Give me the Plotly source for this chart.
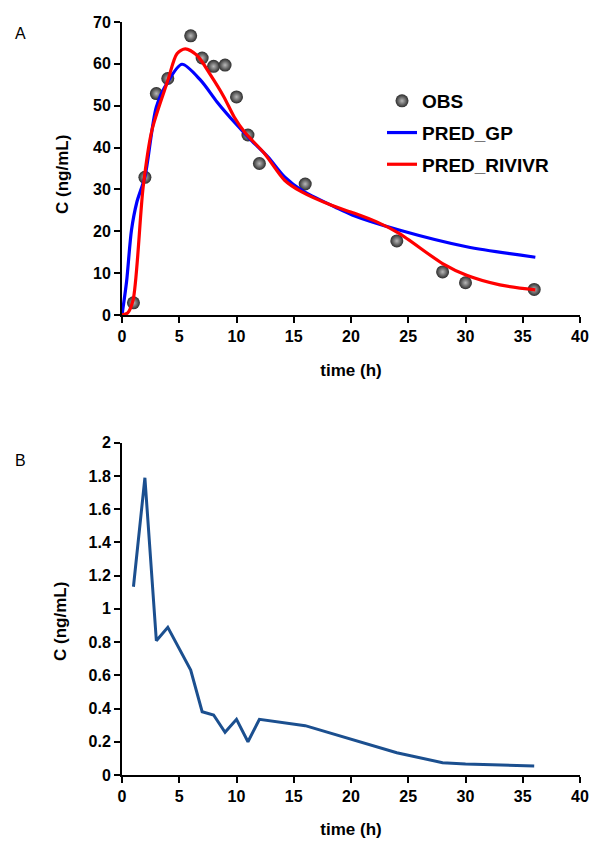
import plotly.graph_objects as go

# Panel A: observed concentrations
obs_t = [1, 2, 3, 4, 6, 7, 8, 9, 10, 11, 12, 16, 24, 28, 30, 36]
obs_c = [2.9, 32.9, 52.9, 56.5, 66.7, 61.4, 59.4, 59.7, 52.1, 43.0, 36.2, 31.3, 17.7, 10.3, 7.7, 6.1]

# Panel A: PRED_GP curve
gp_t = [0, 0.4, 0.83, 1.3, 2, 3, 4, 5.24, 6.86, 8.3, 9.8, 11.27, 12.74, 14.2, 15.7, 18.6, 20.1, 24.2, 30.1, 36.1]
gp_c = [0, 8.0, 20.3, 27.0, 33.0, 49.7, 55.7, 59.9, 56.1, 50.9, 46.1, 41.8, 37.8, 33.0, 29.8, 25.8, 23.9, 20.3, 16.3, 13.8]

# Panel A: PRED_RIVIVR curve
rv_t = [0, 0.5, 0.97, 1.85, 2.6, 4, 4.8, 5.53, 6.56, 7.74, 8.9, 9.8, 10.7, 12.44, 14.2, 15.7, 18.3, 20.1, 22.2, 24.2, 28, 30.1, 33, 36.1]
rv_c = [0, 0.5, 3.6, 30.6, 44.0, 56.0, 62.4, 63.6, 62.0, 57.3, 52.1, 47.3, 43.7, 38.6, 32.2, 29.4, 26.2, 24.5, 22.3, 19.5, 12.3, 9.5, 7.2, 6.0]

# Panel B
b_t = [1, 2, 3, 4, 6, 7, 8, 9, 10, 11, 12, 16, 24, 28, 30, 36]
b_c = [1.133, 1.789, 0.808, 0.889, 0.632, 0.381, 0.361, 0.257, 0.335, 0.2, 0.335, 0.297, 0.134, 0.074, 0.066, 0.054]

FONT = "Liberation Sans, Arial, sans-serif"
W, H = 594, 842

fig = go.Figure()
fig.add_trace(go.Scatter(
    x=obs_t, y=obs_c, mode="markers", name="OBS",
    marker=dict(size=13, color="#2c2c2c", line=dict(width=0),
                gradient=dict(type="radial", color="#b8b8b8")),
    xaxis="x", yaxis="y", legendgroup="a"))
fig.add_trace(go.Scatter(
    x=gp_t, y=gp_c, mode="lines", name="PRED_GP",
    line=dict(color="#0000ff", width=3.2, shape="spline", smoothing=0.8),
    xaxis="x", yaxis="y", legendgroup="b"))
fig.add_trace(go.Scatter(
    x=rv_t, y=rv_c, mode="lines", name="PRED_RIVIVR",
    line=dict(color="#ff0000", width=3.2, shape="spline", smoothing=0.8),
    xaxis="x", yaxis="y", legendgroup="c"))
fig.add_trace(go.Scatter(
    x=b_t, y=b_c, mode="lines", name="B", showlegend=False,
    line=dict(color="#1b4f8f", width=3),
    xaxis="x2", yaxis="y2"))

xd = [122 / W, 580 / W]
yA = [1 - 315 / H, 1 - 22 / H]
yB = [1 - 775 / H, 1 - 442.7 / H]

axis_common = dict(
    showgrid=False, zeroline=False, showline=True, linecolor="black", linewidth=2,
    ticks="outside", ticklen=6, tickwidth=2, tickcolor="black", automargin=False,
    tickfont=dict(family=FONT, size=16, color="black", weight="bold"),
)

fig.update_layout(
    width=W, height=H, autosize=False, margin=dict(l=0, r=0, t=0, b=0, pad=0),
    paper_bgcolor="white", plot_bgcolor="white",
    font=dict(family=FONT, color="black"),
    xaxis=dict(domain=xd, anchor="y", range=[0, 40], dtick=5,
               title=dict(text="time (h)", font=dict(family=FONT, size=17, weight="bold"), standoff=20),
               **axis_common),
    yaxis=dict(domain=yA, anchor="x", range=[0, 70], dtick=10, **axis_common),
    xaxis2=dict(domain=xd, anchor="y2", range=[0, 40], dtick=5,
                title=dict(text="time (h)", font=dict(family=FONT, size=17, weight="bold"), standoff=19),
                **axis_common),
    yaxis2=dict(domain=yB, anchor="x2", range=[0, 2], dtick=0.2, **axis_common),
    legend=dict(x=382 / W, y=1 - 82 / H, xanchor="left", yanchor="top",
                bgcolor="rgba(0,0,0,0)", traceorder="grouped", tracegroupgap=4,
                font=dict(family=FONT, size=19, color="black", weight="bold")),
    showlegend=True,
)

ann = [
    dict(text="A", x=20 / W, y=1 - 33 / H, font=dict(size=16)),
    dict(text="B", x=20 / W, y=1 - 460 / H, font=dict(size=16)),
    dict(text="<b>C (ng/mL)</b>", x=62 / W, y=1 - 175 / H, textangle=-90, font=dict(size=17)),
    dict(text="<b>C (ng/mL)</b>", x=60 / W, y=1 - 622 / H, textangle=-90, font=dict(size=17)),
]
for a in ann:
    fig.add_annotation(xref="paper", yref="paper", showarrow=False,
                       xanchor="center", yanchor="middle",
                       font=dict(family=FONT, color="black", **a.pop("font")), **a)

fig.write_html("out.html", config={"displayModeBar": False, "responsive": False},
               post_script="document.body.style.margin='0px';document.body.style.overflow='hidden';")
